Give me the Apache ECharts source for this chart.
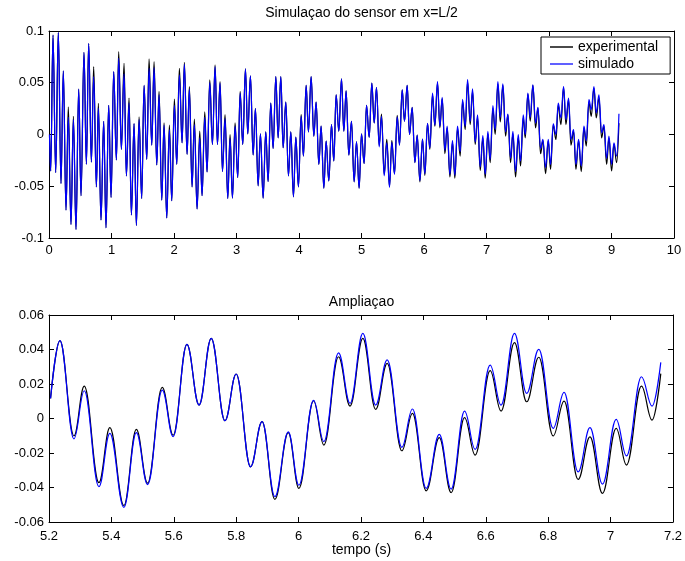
<!DOCTYPE html>
<html>
<head>
<meta charset="utf-8">
<script src="https://cdn.jsdelivr.net/npm/echarts@6/dist/echarts.min.js"></script>
<style>
  html, body { margin: 0; padding: 0; background: #ffffff; }
  #chart { width: 685px; height: 561px; }
</style>
</head>
<body>
<div id="chart"></div>
<script>
// Sensor response at x = L/2: local extrema of the measured and simulated signals.
// Full record (0 .. 9.1 s)
const fullTime = [
  0.008, 0.027, 0.064, 0.107, 0.149, 0.192, 0.229, 0.272, 0.309, 0.352, 0.390, 0.432, 0.475, 0.512, 0.560, 0.598,
  0.635, 0.678, 0.715, 0.758, 0.790, 0.832, 0.875, 0.912, 0.955, 0.993, 1.035, 1.078, 1.115, 1.158, 1.201, 1.238,
  1.281, 1.318, 1.361, 1.398, 1.441, 1.483, 1.521, 1.564, 1.601, 1.644, 1.681, 1.724, 1.761, 1.804, 1.841, 1.884,
  1.926, 1.964, 2.006, 2.044, 2.086, 2.129, 2.166, 2.209, 2.246, 2.289, 2.326, 2.369, 2.412, 2.449, 2.492, 2.529,
  2.572, 2.615, 2.657, 2.695, 2.737, 2.775, 2.817, 2.860, 2.897, 2.935, 2.977, 3.020, 3.058, 3.100, 3.143, 3.180,
  3.223, 3.266, 3.303, 3.346, 3.383, 3.426, 3.468, 3.506, 3.548, 3.586, 3.629, 3.666, 3.709, 3.746, 3.789, 3.831,
  3.869, 3.911, 3.949, 3.991, 4.034, 4.071, 4.114, 4.151, 4.194, 4.237, 4.274, 4.317, 4.354, 4.397, 4.434, 4.477,
  4.520, 4.557, 4.594, 4.637, 4.680, 4.717, 4.754, 4.797, 4.840, 4.882, 4.920, 4.962, 5.000, 5.042, 5.080, 5.123,
  5.165, 5.203, 5.240, 5.283, 5.320, 5.363, 5.405, 5.448, 5.485, 5.528, 5.571, 5.608, 5.651, 5.688, 5.731, 5.768,
  5.811, 5.854, 5.891, 5.934, 5.976, 6.014, 6.056, 6.094, 6.136, 6.174, 6.216, 6.254, 6.291, 6.334, 6.371, 6.414,
  6.456, 6.494, 6.536, 6.579, 6.617, 6.659, 6.697, 6.739, 6.777, 6.819, 6.857, 6.899, 6.942, 6.979, 7.022, 7.059,
  7.102, 7.139, 7.182, 7.220, 7.262, 7.305, 7.342, 7.385, 7.422, 7.465, 7.508, 7.545, 7.588, 7.620, 7.662, 7.700,
  7.742, 7.785, 7.823, 7.865, 7.903, 7.945, 7.988, 8.025, 8.068, 8.111, 8.148, 8.191, 8.233, 8.271, 8.313, 8.351,
  8.393, 8.431, 8.473, 8.516, 8.559, 8.596, 8.639, 8.676, 8.719, 8.756, 8.799, 8.842, 8.879, 8.922, 8.959, 9.002,
  9.039, 9.082, 9.119
];
const fullExperimental = [
  0.0, -0.0352, 0.096, -0.0368, 0.0986, -0.0474, 0.0614, -0.073, 0.0266, -0.087, 0.0176, -0.0918, 0.0438, -0.0592, 0.0794, -0.0288,
  0.088, -0.0266, 0.0656, -0.0506, 0.0301, -0.0826, 0.0128, -0.0902, 0.0282, -0.0608, 0.0608, -0.0246, 0.080, -0.0144, 0.0688, -0.040,
  0.0352, -0.0778, 0.0106, -0.088, 0.017, -0.0618, 0.0474, -0.024, 0.073, -0.0102, 0.0704, -0.0294, 0.0416, -0.0634, 0.0112, -0.0806,
  0.009, -0.064, 0.0342, -0.0288, 0.064, -0.008, 0.0698, -0.0192, 0.0464, -0.0506, 0.015, -0.072, 0.0032, -0.0592, 0.0218, -0.0362,
  0.0528, -0.0096, 0.0672, -0.0096, 0.0512, -0.0358, 0.0192, -0.0618, 0.0, -0.0614, 0.0112, -0.0416, 0.0416, -0.0096, 0.0634, 0.0006,
  0.0566, -0.0198, 0.025, -0.0496, 0.0006, -0.0614, 0.0026, -0.0454, 0.0304, -0.0134, 0.056, -0.0032, 0.056, -0.0128, 0.0314, -0.040,
  0.0026, -0.0602, -0.0026, -0.0506, 0.0192, -0.0208, 0.0474, 0.0026, 0.056, -0.0016, 0.0314, -0.0288, 0.008, -0.0518, -0.0064, -0.0448,
  0.0096, -0.0256, 0.0384, 0.0032, 0.0538, 0.0032, 0.0422, -0.0198, 0.0128, -0.0458, -0.007, -0.0518, 0.0006, -0.0282, 0.0282, -0.0026,
  0.0496, 0.0112, 0.0454, -0.0106, 0.0198, -0.0384, -0.0048, -0.0502, -0.0058, -0.0378, 0.0186, -0.0096, 0.0432, 0.0128, 0.0474, 0.0,
  0.0262, -0.0272, -0.0006, -0.0458, -0.0048, -0.0394, 0.0106, -0.0144, 0.0384, 0.008, 0.0496, 0.0064, 0.0346, -0.0186, 0.0064, -0.041,
  -0.008, -0.0422, 0.0058, -0.0208, 0.032, 0.0048, 0.0506, 0.0096, 0.0416, -0.0096, 0.0166, -0.0346, -0.0038, -0.0422, 0.0006, -0.0272,
  0.025, 0.0, 0.0486, 0.0122, 0.0474, -0.0016, 0.0192, -0.0272, 0.0006, -0.041, -0.0032, -0.0304, 0.016, -0.0032, 0.039, 0.0128,
  0.0474, 0.0064, 0.0256, -0.0186, -0.0058, -0.0378, -0.0064, -0.0336, 0.009, -0.0048, 0.0282, 0.0096, 0.0454, 0.0096, 0.0336, -0.0102,
  0.0032, -0.0336, -0.0058, -0.0358, 0.0064, -0.0112, 0.0314, 0.0176, 0.0448, 0.016, 0.0352, -0.0032, 0.008, -0.0288, -0.0038, -0.0352,
  -0.0096, -0.0272, 0.011
];
const fullSimulated = [
  0.0, -0.0352, 0.096, -0.0368, 0.0986, -0.0474, 0.0614, -0.073, 0.0166, -0.087, 0.0144, -0.0918, 0.0438, -0.0592, 0.0794, -0.0288,
  0.088, -0.0266, 0.056, -0.0506, 0.0256, -0.0826, 0.0128, -0.0902, 0.0282, -0.0608, 0.0608, -0.0246, 0.0736, -0.0144, 0.0586, -0.040,
  0.0304, -0.0778, 0.0106, -0.088, 0.0144, -0.0618, 0.0474, -0.024, 0.064, -0.0102, 0.0646, -0.0294, 0.0384, -0.0634, 0.009, -0.0806,
  0.0048, -0.064, 0.0282, -0.0288, 0.0576, -0.008, 0.0678, -0.0192, 0.0438, -0.0506, 0.0096, -0.072, -0.0032, -0.0592, 0.0166, -0.0362,
  0.0502, -0.0096, 0.0656, -0.0096, 0.0496, -0.0358, 0.0154, -0.0618, -0.0038, -0.0614, 0.008, -0.0416, 0.040, -0.0096, 0.0634, 0.0006,
  0.0566, -0.0198, 0.025, -0.0496, 0.0006, -0.0614, 0.0026, -0.0454, 0.0304, -0.0134, 0.056, -0.0032, 0.056, -0.0128, 0.0314, -0.040,
  0.0026, -0.0602, -0.0026, -0.0506, 0.0175, -0.0208, 0.0474, 0.0026, 0.056, -0.0016, 0.0314, -0.0288, 0.008, -0.0518, -0.0064, -0.0448,
  0.0096, -0.0256, 0.0384, 0.0032, 0.0538, 0.0032, 0.0422, -0.0198, 0.0128, -0.0458, -0.007, -0.0518, 0.0006, -0.0282, 0.0282, -0.0026,
  0.0496, 0.0112, 0.0454, -0.012, 0.0175, -0.040, -0.008, -0.051, -0.0075, -0.0385, 0.017, -0.0105, 0.0432, 0.0128, 0.0474, 0.0,
  0.0262, -0.0272, -0.0006, -0.0445, -0.0045, -0.038, 0.0108, -0.013, 0.040, 0.009, 0.051, 0.008, 0.036, -0.0154, 0.008, -0.0384,
  -0.006, -0.0394, 0.008, -0.0166, 0.034, 0.008, 0.053, 0.0128, 0.044, -0.0074, 0.019, -0.0314, -0.001, -0.0384, 0.003, -0.024,
  0.028, 0.0048, 0.051, 0.0166, 0.049, 0.0026, 0.0198, -0.023, 0.003, -0.0358, 0.0, -0.0256, 0.019, 0.0, 0.040, 0.0166,
  0.048, 0.0112, 0.0262, -0.0134, -0.0048, -0.032, -0.0048, -0.0288, 0.0102, 0.0, 0.0304, 0.016, 0.0464, 0.0144, 0.0352, -0.0048,
  0.0048, -0.0288, -0.0048, -0.0304, 0.008, -0.0058, 0.0336, 0.024, 0.0464, 0.0208, 0.0384, 0.0016, 0.0096, -0.023, -0.0016, -0.0288,
  -0.008, -0.0208, 0.020
];

// Enlarged segment (5.2 .. 7.16 s)
const zoomTime = [
  5.205, 5.235, 5.280, 5.313, 5.360, 5.395, 5.440, 5.480, 5.516, 5.563, 5.598, 5.642, 5.681, 5.720, 5.764, 5.800,
  5.846, 5.883, 5.924, 5.967, 6.001, 6.048, 6.081, 6.128, 6.165, 6.206, 6.247, 6.284, 6.331, 6.365, 6.409, 6.451,
  6.489, 6.532, 6.566, 6.614, 6.649, 6.692, 6.731, 6.770, 6.816, 6.851, 6.896, 6.934, 6.974, 7.018, 7.051, 7.099,
  7.133, 7.161
];
const zoomExperimental = [
  0.0117, 0.0451, -0.0101, 0.0188, -0.0372, -0.0053, -0.0505, -0.0063, -0.0375, 0.0181, -0.0097, 0.043, 0.0078, 0.0465, -0.0013, 0.0258,
  -0.028, -0.0018, -0.0469, -0.0082, -0.0405, 0.0103, -0.0154, 0.0358, 0.0072, 0.0465, 0.0053, 0.032, -0.0187, 0.003, -0.0419, -0.0111,
  -0.043, 0.0005, -0.0212, 0.0277, 0.0043, 0.044, 0.0097, 0.0355, -0.0101, 0.0101, -0.0353, -0.0106, -0.0434, -0.0057, -0.027, 0.0188,
  -0.0009, 0.026
];
const zoomSimulated = [
  0.0117, 0.0451, -0.0118, 0.0161, -0.0395, -0.0086, -0.0515, -0.0082, -0.0383, 0.0165, -0.0105, 0.043, 0.0078, 0.0465, -0.0013, 0.0258,
  -0.028, -0.0018, -0.0453, -0.0078, -0.0387, 0.0105, -0.0134, 0.0381, 0.0088, 0.0494, 0.0078, 0.034, -0.0167, 0.0055, -0.0405, -0.0092,
  -0.0409, 0.0043, -0.0179, 0.031, 0.0078, 0.0494, 0.0146, 0.0401, -0.0057, 0.0152, -0.0309, -0.0053, -0.038, -0.0005, -0.0217, 0.0242,
  0.0072, 0.0325
];

const seriesNames = ['experimental', 'simulado'];
const titles = ['Simulaçao do sensor em x=L/2', 'Ampliaçao'];
const xLabel = 'tempo (s)';

const FONT = '"Liberation Sans", Arial, Helvetica, sans-serif';
const FS_TEXT = 14;   // titles, axis name, legend
const FS_TICK = 13;   // tick labels

function pairs(t, v) { return t.map((x, i) => [x, v[i]]); }

function lineSeries(name, color, xi, yi, data, z) {
  return {
    name: name, type: 'line', xAxisIndex: xi, yAxisIndex: yi, data: data,
    symbol: 'none', smooth: 0.4, smoothMonotone: 'x',
    lineStyle: { color: color, width: 1.2 }, itemStyle: { color: color },
    z: z, animation: false, silent: true
  };
}

function xAxisDef(grid, min, max, step, pos, labels, margin) {
  return {
    type: 'value', gridIndex: grid, position: pos, min: min, max: max, interval: step,
    axisLine: { show: true, onZero: false, lineStyle: { color: '#000', width: 1 } },
    axisTick: { show: true, inside: true, length: 5, lineStyle: { color: '#000' } },
    axisLabel: { show: labels, color: '#000', fontFamily: FONT, fontSize: FS_TICK, margin: margin },
    splitLine: { show: false }
  };
}
function yAxisDef(grid, min, max, step, pos, labels) {
  return {
    type: 'value', gridIndex: grid, position: pos, min: min, max: max, interval: step,
    axisLine: { show: true, onZero: false, lineStyle: { color: '#000', width: 1 } },
    axisTick: { show: true, inside: true, length: 5, lineStyle: { color: '#000' } },
    axisLabel: { show: labels, color: '#000', fontFamily: FONT, fontSize: FS_TICK, margin: 5 },
    splitLine: { show: false }
  };
}

const chart = echarts.init(document.getElementById('chart'), null, { renderer: 'canvas' });
chart.setOption({
  backgroundColor: '#ffffff',
  animation: false,
  grid: [
    { left: 49, top: 31, width: 625, height: 207 },
    { left: 49, top: 315, width: 625, height: 207 }
  ],
  xAxis: [
    xAxisDef(0, 0, 10, 1, 'bottom', true, 6),
    xAxisDef(0, 0, 10, 1, 'top', false, 6),
    xAxisDef(1, 5.2, 7.2, 0.2, 'bottom', true, 8),
    xAxisDef(1, 5.2, 7.2, 0.2, 'top', false, 8)
  ],
  yAxis: [
    yAxisDef(0, -0.1, 0.1, 0.05, 'left', true),
    yAxisDef(0, -0.1, 0.1, 0.05, 'right', false),
    yAxisDef(1, -0.06, 0.06, 0.02, 'left', true),
    yAxisDef(1, -0.06, 0.06, 0.02, 'right', false)
  ],
  legend: {
    data: [
      { name: seriesNames[0], itemStyle: { color: '#4a4a4a' } },
      { name: seriesNames[1], itemStyle: { color: '#6060ff' } }
    ],
    orient: 'vertical',
    left: 541, top: 37,
    padding: [3, 12, 3, 9],
    itemGap: 3,
    icon: 'rect',
    itemWidth: 23, itemHeight: 2,
    backgroundColor: '#ffffff',
    borderColor: '#000000', borderWidth: 1,
    textStyle: { color: '#000', fontFamily: FONT, fontSize: FS_TEXT },
    selectedMode: false
  },
  series: [
    lineSeries(seriesNames[0], '#000000', 0, 0, pairs(fullTime, fullExperimental), 2),
    lineSeries(seriesNames[1], '#0000ff', 0, 0, pairs(fullTime, fullSimulated), 3),
    lineSeries(seriesNames[0], '#000000', 2, 2, pairs(zoomTime, zoomExperimental), 2),
    lineSeries(seriesNames[1], '#0000ff', 2, 2, pairs(zoomTime, zoomSimulated), 3)
  ],
  graphic: [
    { type: 'text', x: 361.5, y: 13, style: { text: titles[0], fill: '#000', font: FS_TEXT + 'px ' + FONT, align: 'center', verticalAlign: 'middle' } },
    { type: 'text', x: 361.5, y: 302, style: { text: titles[1], fill: '#000', font: FS_TEXT + 'px ' + FONT, align: 'center', verticalAlign: 'middle' } },
    { type: 'text', x: 361.5, y: 550, style: { text: xLabel, fill: '#000', font: FS_TEXT + 'px ' + FONT, align: 'center', verticalAlign: 'middle' } }
  ]
});
</script>
</body>
</html>
